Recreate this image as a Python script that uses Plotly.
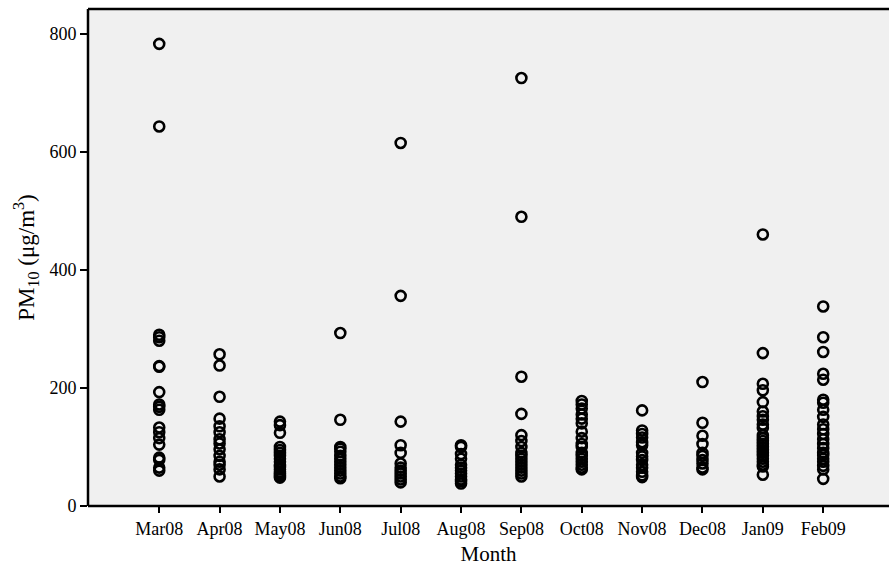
import plotly.graph_objects as go

months = ["Mar08", "Apr08", "May08", "Jun08", "Jul08", "Aug08",
          "Sep08", "Oct08", "Nov08", "Dec08", "Jan09", "Feb09"]

mar08 = [783, 643, 290, 286, 280, 237, 236, 193, 172, 168, 163, 133, 125, 115, 104, 82, 78, 65, 60]
apr08 = [257, 238, 185, 148, 135, 125, 113, 106, 96, 85, 75, 70, 62, 50]
may08 = [143, 137, 124, 100, 95, 90, 85, 80, 75, 70, 66, 62, 58, 55, 52, 50, 48]
jun08 = [293, 146, 100, 97, 92, 85, 80, 75, 70, 65, 60, 55, 50, 47]
jul08 = [615, 356, 143, 103, 90, 72, 65, 60, 55, 50, 45, 40]
aug08 = [103, 100, 88, 80, 70, 65, 60, 55, 50, 45, 42, 38]
sep08 = [725, 490, 219, 156, 120, 110, 100, 90, 85, 80, 75, 70, 65, 60, 55, 50]
oct08 = [178, 172, 165, 155, 148, 140, 126, 115, 105, 100, 90, 85, 80, 75, 70, 65, 62]
nov08 = [162, 128, 122, 116, 108, 103, 90, 84, 78, 70, 65, 58, 52, 49]
dec08 = [210, 141, 119, 105, 90, 85, 78, 72, 65, 62]
jan09 = [460, 259, 207, 196, 176, 160, 152, 146, 138, 132, 120, 115, 110, 105, 100,
         95, 90, 85, 80, 75, 70, 67, 53]
feb09 = [338, 286, 261, 224, 214, 180, 175, 163, 151, 138, 130, 122, 113, 105, 98,
         90, 86, 80, 75, 68, 62, 46]

series = [mar08, apr08, may08, jun08, jul08, aug08, sep08, oct08, nov08, dec08, jan09, feb09]

xs, ys = [], []
for m, vals in zip(months, series):
    xs += [m] * len(vals)
    ys += vals

serif = "Liberation Serif"

fig = go.Figure()
fig.add_trace(go.Scatter(
    x=xs, y=ys, mode="markers",
    marker=dict(symbol="circle-open", size=10, color="black", line=dict(width=2.6, color="black")),
    showlegend=False, cliponaxis=False,
))

# frame lines of the plot area (top, left, bottom); no right line
for x0, y0, x1, y1 in [(0, 1, 1, 1), (0, 0, 0, 1), (0, 0, 1, 0)]:
    fig.add_shape(type="line", xref="paper", yref="paper", x0=x0, y0=y0, x1=x1, y1=y1,
                  line=dict(color="black", width=2.5), layer="above")

fig.update_layout(
    width=889, height=568,
    margin=dict(l=88, r=0, t=9, b=62),
    paper_bgcolor="white",
    plot_bgcolor="#f0f0f0",
    font=dict(family=serif, color="black", size=18),
    xaxis=dict(
        type="category", categoryorder="array", categoryarray=months,
        range=[-1.18, 12.09],
        showgrid=False, zeroline=False, showline=False,
        ticks="outside", ticklen=6, tickwidth=1.5, tickcolor="black",
        tickfont=dict(family=serif, size=18, color="black"),
        title=dict(text="Month", font=dict(family=serif, size=21, color="black"), standoff=8),
    ),
    yaxis=dict(
        range=[0, 842],
        tickvals=[0, 200, 400, 600, 800],
        showgrid=False, zeroline=False, showline=False,
        ticks="outside", ticklen=7, tickwidth=1.5, tickcolor="black",
        tickfont=dict(family=serif, size=18, color="black"),
        title=dict(text="PM<sub>10</sub> (μg/m<sup>3</sup>)",
                   font=dict(family=serif, size=23, color="black"), standoff=8),
    ),
)

fig.write_html("out.html")
